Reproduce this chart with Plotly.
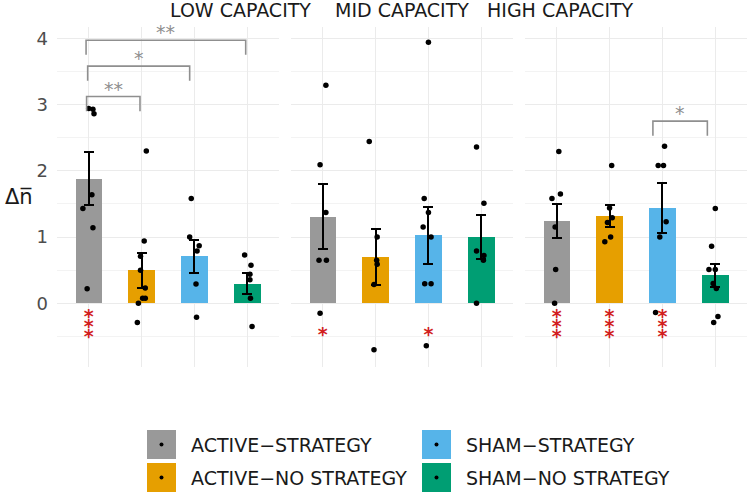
import plotly.graph_objects as go

W, H = 749, 495

panels = ["LOW CAPACITY", "MID CAPACITY", "HIGH CAPACITY"]
groups = ["ACTIVE−STRATEGY", "ACTIVE−NO STRATEGY", "SHAM−STRATEGY", "SHAM−NO STRATEGY"]
colors = ["#999999", "#E69F00", "#56B4E9", "#009E73"]

# bar means and standard errors (per panel, per group)
means_low = [1.88, 0.50, 0.71, 0.295]
means_mid = [1.31, 0.70, 1.03, 1.00]
means_high = [1.24, 1.32, 1.44, 0.42]
se_low = [0.40, 0.265, 0.25, 0.16]
se_mid = [0.495, 0.42, 0.43, 0.33]
se_high = [0.255, 0.17, 0.38, 0.175]

# individual points (values) per group, and their horizontal jitter (category units)
pts_low = [
    [2.94, 2.93, 2.86, 1.64, 1.43, 1.14, 0.22],
    [2.30, 0.94, 0.71, 0.50, 0.23, 0.075, 0.075, 0.0, -0.29],
    [1.58, 1.00, 0.87, 0.79, 0.29, -0.21],
    [0.73, 0.575, 0.44, 0.355, 0.075, -0.35],
]
jit_low = [
    [0.0, 0.08, 0.10, 0.06, -0.11, 0.08, -0.03],
    [0.09, 0.05, -0.02, -0.02, 0.07, 0.02, 0.07, -0.06, -0.08],
    [-0.06, -0.09, 0.09, 0.05, 0.03, 0.04],
    [-0.05, 0.07, 0.05, 0.05, 0.06, 0.09],
]
pts_mid = [
    [3.29, 2.09, 1.37, 0.65, 0.65, -0.15],
    [2.44, 1.00, 0.65, 0.59, 0.285, -0.70],
    [3.94, 1.58, 1.37, 1.15, 1.00, 0.295, 0.295, -0.64],
    [2.36, 1.51, 0.79, 0.72, 0.65, 0.0],
]
jit_mid = [
    [0.06, -0.05, 0.06, -0.07, 0.07, -0.05],
    [-0.12, 0.03, 0.02, 0.03, -0.03, -0.03],
    [0.0, -0.08, 0.0, -0.10, 0.05, -0.07, 0.05, -0.04],
    [-0.09, 0.05, -0.09, 0.05, 0.04, -0.09],
]
pts_high = [
    [2.29, 1.65, 1.58, 1.15, 0.51, 0.0],
    [2.08, 1.44, 1.29, 1.22, 1.00, 0.93],
    [2.37, 2.08, 2.08, 1.23, 1.00, -0.14],
    [1.43, 0.86, 0.51, 0.51, 0.30, 0.225, -0.20, -0.29],
]
jit_high = [
    [0.04, 0.07, -0.09, -0.03, -0.02, -0.04],
    [0.04, 0.0, 0.05, -0.04, 0.02, -0.09],
    [0.04, -0.08, 0.02, 0.07, -0.05, -0.13],
    [0.0, -0.07, -0.12, 0.0, -0.04, 0.02, 0.05, -0.03],
]

# significance vs zero (red stars under bars)
sig0_low = ["***", "", "", ""]
sig0_mid = ["*", "", "*", ""]
sig0_high = ["***", "***", "***", ""]

# pairwise comparison brackets: (panel index, x start, x end, top y, label)
brackets = [
    (0, 0.96, 1.97, 3.12, "**"),
    (0, 0.98, 2.91, 3.58, "*"),
    (0, 0.95, 3.97, 3.97, "**"),
    (2, 2.82, 3.85, 2.75, "*"),
]

means = [means_low, means_mid, means_high]
ses = [se_low, se_mid, se_high]
pts = [pts_low, pts_mid, pts_high]
jits = [jit_low, jit_mid, jit_high]
sig0 = [sig0_low, sig0_mid, sig0_high]

cats = [1, 2, 3, 4]

def px(x):
    return x / W

def py(y):
    return 1 - y / H

xdoms = [[px(57), px(279)], [px(291), px(513)], [px(525), px(747)]]
ydom = [py(366.7), py(27)]
yrange = [-0.957, 4.17]

fig = go.Figure()
annotations = []
shapes = []

for p in range(3):
    xa = "x" if p == 0 else f"x{p+1}"
    ya = "y" if p == 0 else f"y{p+1}"
    fig.add_trace(go.Bar(
        x=cats, y=means[p], width=0.5, marker=dict(color=colors, line=dict(width=0)),
        error_y=dict(type="data", array=ses[p], color="black", thickness=2, width=5),
        xaxis=xa, yaxis=ya, showlegend=False, hoverinfo="skip"))
    xs, ys = [], []
    for g in range(4):
        for v, j in zip(pts[p][g], jits[p][g]):
            xs.append(cats[g] + j)
            ys.append(v)
    fig.add_trace(go.Scatter(x=xs, y=ys, mode="markers",
                             marker=dict(color="black", size=5.5),
                             xaxis=xa, yaxis=ya, showlegend=False, hoverinfo="skip"))
    # red stars
    sx, sy = [], []
    for g in range(4):
        n = len(sig0[p][g])
        if n == 0:
            continue
        if n == 1:
            sx.append(cats[g]); sy.append(-0.39)
        else:
            for k in range(n):
                sx.append(cats[g]); sy.append(-0.13 - 0.145 * k)
    fig.add_trace(go.Scatter(x=sx, y=[v - 0.1 for v in sy], mode="text", text=["<b>*</b>"] * len(sx),
                             textfont=dict(color="#D21F1F", size=19, family="DejaVu Sans"),
                             textposition="middle center",
                             xaxis=xa, yaxis=ya, showlegend=False, hoverinfo="skip"))
    annotations.append(dict(text=panels[p], x=(xdoms[p][0] + xdoms[p][1]) / 2, y=py(10),
                            xref="paper", yref="paper", showarrow=False, yanchor="middle",
                            font=dict(size=19, color="#1A1A1A", family="DejaVu Sans")))

tip = 0.22
for (p, x1, x2, yt, lab) in brackets:
    xa = "x" if p == 0 else f"x{p+1}"
    ya = "y" if p == 0 else f"y{p+1}"
    fig.add_trace(go.Scatter(x=[x1, x1, x2, x2], y=[yt - tip, yt, yt, yt - tip], mode="lines",
                             line=dict(color="#8F8F8F", width=1.6),
                             xaxis=xa, yaxis=ya, showlegend=False, hoverinfo="skip"))
    annotations.append(dict(text=lab, x=(x1 + x2) / 2, y=yt, xref=xa, yref=ya,
                            showarrow=False, yanchor="bottom", yshift=-5,
                            font=dict(size=19, color="#8F8F8F", family="DejaVu Sans")))

# y axis title
annotations.append(dict(text="Δn̅", x=px(3), y=py(197), xref="paper", yref="paper",
                        xanchor="left", yanchor="middle",
                        showarrow=False, font=dict(size=21, color="#1A1A1A", family="DejaVu Sans")))

# manual legend (2 x 2)
leg_pos = [(147, 430), (147, 463), (422, 430), (422, 463)]
for g in range(4):
    lx, ly = leg_pos[g]
    shapes.append(dict(type="rect", xref="paper", yref="paper",
                       x0=px(lx), x1=px(lx + 29), y0=py(ly + 29), y1=py(ly),
                       fillcolor=colors[g], line=dict(width=0)))
    shapes.append(dict(type="circle", xref="paper", yref="paper",
                       x0=px(lx + 12.5), x1=px(lx + 16.5), y0=py(ly + 16.5), y1=py(ly + 12.5),
                       fillcolor="black", line=dict(width=0)))
    annotations.append(dict(text=groups[g], x=px(lx + 42), y=py(ly + 14.5), xref="paper", yref="paper",
                            showarrow=False, xanchor="left", yanchor="middle",
                            font=dict(size=19, color="#1A1A1A", family="DejaVu Sans")))

layout = dict(
    width=W, height=H, margin=dict(l=0, r=0, t=0, b=0),
    paper_bgcolor="white", plot_bgcolor="white",
    annotations=annotations, shapes=shapes, bargap=0,
    font=dict(family="DejaVu Sans"),
)
for p in range(3):
    xk = "xaxis" if p == 0 else f"xaxis{p+1}"
    yk = "yaxis" if p == 0 else f"yaxis{p+1}"
    layout[xk] = dict(domain=xdoms[p], range=[0.4, 4.6], tickvals=cats, showticklabels=False,
                      showgrid=True, gridcolor="#EBEBEB", gridwidth=1.2, zeroline=False,
                      showline=False, ticks="", anchor="y" if p == 0 else f"y{p+1}", fixedrange=True)
    layout[yk] = dict(domain=ydom, range=yrange, tickvals=[0, 1, 2, 3, 4],
                      showticklabels=(p == 0), showgrid=True, gridcolor="#EBEBEB", gridwidth=1.2,
                      minor=dict(tickvals=[-0.5, 0.5, 1.5, 2.5, 3.5], showgrid=True,
                                 gridcolor="#F3F3F3", gridwidth=0.8),
                      zeroline=False, showline=False, ticks="",
                      tickfont=dict(size=18, color="#4D4D4D", family="DejaVu Sans"),
                      anchor="x" if p == 0 else f"x{p+1}", fixedrange=True)
fig.update_layout(**layout)
fig.update_yaxes(ticklabelstandoff=8)

fig.write_html("out.html", config={"displayModeBar": False},
               post_script="document.body.style.margin='0';document.body.style.padding='0';")
